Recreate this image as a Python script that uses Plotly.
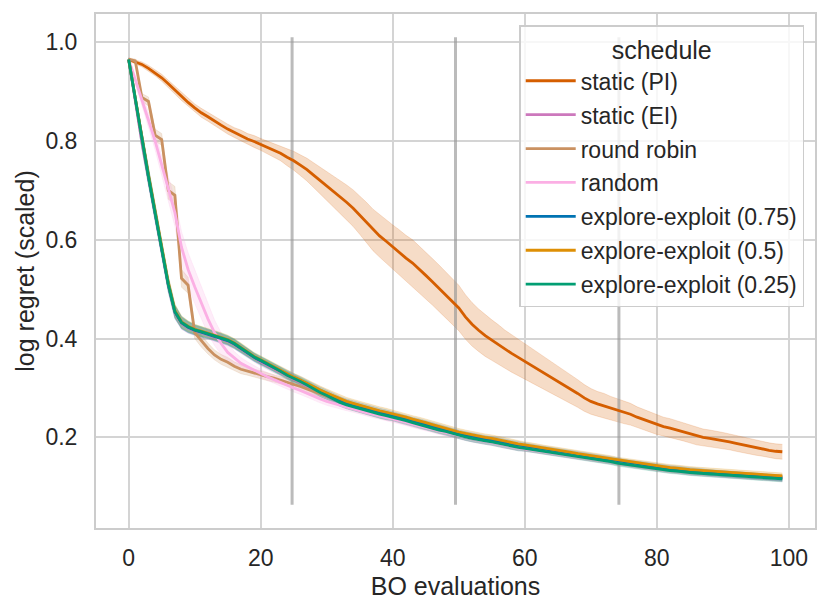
import plotly.graph_objects as go

# BO evaluation index
evals = list(range(100))

# mean log regret (scaled) per schedule
pi_mean = [
    .965, .960, .955, .947, .938, .928, .916, .903, .890, .878,
    .867, .857, .849, .840, .832, .824, .817, .811, .804, .799,
    .793, .787, .781, .775, .767, .760, .751, .742, .731, .720,
    .710, .699, .688, .676, .664, .650, .635, .620, .608, .597,
    .585, .574, .563, .553, .541, .528, .515, .502, .489, .476,
    .462, .444, .429, .417, .406, .397, .388, .378, .370, .362,
    .354, .345, .337, .329, .321, .313, .305, .297, .289, .280,
    .273, .268, .264, .259, .255, .251, .247, .241, .236, .231,
    .226, .222, .219, .215, .211, .207, .203, .200, .198, .196,
    .194, .191, .188, .185, .182, .179, .177, .174, .172, .171,
]
pi_ci = [
    .003, .004, .005, .006, .006, .007, .007, .008, .008, .008,
    .008, .009, .009, .009, .010, .010, .010, .011, .011, .012,
    .012, .013, .014, .015, .017, .019, .021, .023, .025, .027,
    .029, .031, .033, .035, .037, .039, .041, .042, .043, .044,
    .045, .046, .046, .047, .047, .047, .047, .047, .047, .046,
    .046, .045, .044, .043, .042, .041, .040, .039, .038, .037,
    .036, .035, .034, .033, .032, .031, .030, .029, .028, .027,
    .026, .025, .025, .024, .023, .023, .022, .021, .021, .020,
    .020, .019, .019, .019, .018, .018, .018, .017, .017, .017,
    .016, .016, .016, .016, .015, .015, .015, .015, .015, .015,
]

ei_mean = [
    .965, .883, .798, .726, .652, .578, .508, .453, .431, .422,
    .416, .412, .408, .404, .400, .395, .388, .379, .370, .361,
    .353, .346, .339, .331, .324, .318, .311, .304, .297, .290,
    .284, .277, .271, .266, .262, .258, .254, .250, .247, .243,
    .240, .236, .233, .229, .225, .222, .218, .215, .211, .208,
    .204, .201, .198, .196, .193, .191, .188, .185, .183, .180,
    .178, .176, .174, .172, .170, .168, .166, .164, .162, .160,
    .158, .156, .154, .152, .149, .147, .145, .143, .141, .139,
    .138, .136, .135, .133, .132, .130, .129, .128, .127, .126,
    .125, .124, .123, .122, .121, .120, .119, .118, .117, .117,
]

rr_mean = [
    .965, .962, .888, .880, .812, .803, .700, .690, .522, .508,
    .412, .395, .380, .367, .358, .352, .344, .338, .334, .330,
    .327, .323, .320, .316, .312, .308, .303, .298, .293, .288,
    .283, .278, .273, .268, .264, .260, .256, .252, .249, .246,
    .243, .239, .236, .232, .228, .224, .221, .217, .214, .210,
    .206, .203, .200, .197, .195, .193, .190, .187, .184, .182,
    .180, .178, .175, .173, .171, .169, .167, .165, .163, .161,
    .159, .157, .155, .153, .150, .148, .146, .144, .142, .140,
    .138, .137, .135, .134, .132, .131, .130, .129, .128, .127,
    .126, .125, .124, .123, .122, .121, .120, .119, .118, .118,
]
rr_ci = [
    .003, .004, .008, .009, .012, .012, .018, .018, .018, .016,
    .012, .012, .011, .010, .010, .010, .009, .009, .008, .008,
    .008, .008, .008, .007, .007, .007, .007, .007, .007, .007,
    .007, .007, .007, .007, .007, .007, .007, .007, .007, .007,
    .007, .007, .007, .007, .007, .007, .007, .007, .007, .007,
    .006, .006, .006, .006, .006, .006, .006, .006, .006, .006,
    .006, .006, .006, .006, .006, .006, .006, .006, .006, .006,
    .006, .006, .006, .006, .006, .006, .006, .006, .006, .006,
    .006, .006, .006, .006, .006, .006, .006, .006, .006, .006,
    .006, .006, .006, .006, .006, .006, .006, .006, .006, .006,
]

rand_mean = [
    .965, .925, .885, .842, .800, .750, .705, .655, .585, .540,
    .505, .472, .440, .412, .390, .372, .360, .350, .343, .336,
    .330, .323, .317, .311, .305, .300, .295, .289, .283, .278,
    .273, .269, .265, .261, .258, .254, .250, .247, .244, .241,
    .238, .234, .231, .227, .224, .220, .217, .213, .210, .206,
    .203, .200, .197, .194, .192, .190, .187, .184, .182, .179,
    .177, .175, .173, .171, .169, .167, .165, .163, .161, .159,
    .157, .155, .153, .151, .149, .147, .145, .143, .141, .139,
    .137, .136, .134, .133, .131, .130, .129, .128, .127, .126,
    .125, .124, .123, .122, .121, .120, .119, .118, .118, .117,
]
rand_ci = [
    .003, .008, .012, .015, .018, .020, .024, .028, .032, .034,
    .034, .033, .030, .026, .022, .018, .014, .012, .010, .009,
    .008, .008, .008, .008, .008, .008, .008, .008, .008, .008,
    .008, .008, .007, .007, .007, .007, .007, .007, .007, .007,
    .007, .007, .007, .007, .007, .007, .007, .007, .007, .007,
    .006, .006, .006, .006, .006, .006, .006, .006, .006, .006,
    .006, .006, .006, .006, .006, .006, .006, .006, .006, .006,
    .006, .006, .006, .006, .006, .006, .006, .006, .006, .006,
    .006, .006, .006, .006, .006, .006, .006, .006, .006, .006,
    .006, .006, .006, .006, .006, .006, .006, .006, .006, .006,
]

ee75_mean = [
    .965, .884, .799, .727, .654, .579, .509, .454, .432, .423,
    .417, .413, .409, .405, .401, .396, .389, .380, .371, .362,
    .355, .348, .341, .334, .327, .321, .315, .308, .300, .294,
    .288, .281, .275, .270, .266, .262, .258, .254, .251, .248,
    .245, .241, .238, .234, .231, .227, .223, .219, .216, .212,
    .208, .205, .202, .199, .197, .195, .192, .189, .187, .185,
    .183, .181, .178, .176, .174, .172, .170, .168, .166, .163,
    .161, .159, .157, .155, .153, .150, .148, .146, .144, .142,
    .140, .139, .137, .136, .134, .133, .132, .130, .129, .128,
    .127, .126, .125, .124, .123, .122, .121, .120, .119, .118,
]
ee50_mean = [
    .965, .887, .803, .731, .659, .584, .513, .457, .434, .425,
    .419, .415, .411, .407, .403, .398, .391, .382, .373, .364,
    .357, .350, .343, .336, .328, .322, .316, .309, .302, .296,
    .290, .284, .278, .273, .269, .265, .261, .257, .254, .251,
    .248, .244, .241, .237, .234, .230, .226, .222, .219, .215,
    .211, .208, .205, .202, .200, .198, .195, .192, .189, .187,
    .185, .183, .180, .178, .176, .174, .172, .170, .167, .165,
    .163, .161, .159, .157, .154, .152, .150, .148, .146, .144,
    .142, .141, .139, .138, .136, .135, .134, .133, .132, .131,
    .130, .129, .128, .127, .126, .125, .124, .123, .123, .122,
]
ee25_mean = [
    .965, .885, .800, .728, .655, .580, .510, .455, .433, .424,
    .418, .414, .410, .406, .402, .397, .390, .381, .372, .363,
    .356, .349, .342, .334, .326, .320, .313, .306, .298, .291,
    .285, .278, .271, .266, .262, .259, .255, .251, .247, .244,
    .241, .237, .234, .230, .226, .222, .219, .215, .212, .208,
    .204, .201, .198, .195, .193, .191, .188, .185, .182, .180,
    .178, .176, .173, .171, .169, .167, .165, .163, .161, .159,
    .157, .155, .153, .151, .148, .146, .144, .142, .140, .138,
    .136, .135, .133, .132, .130, .129, .128, .127, .126, .125,
    .124, .123, .122, .121, .120, .119, .118, .117, .117, .116,
]
# shared band width of the EI-like schedules
ee_ci = [
    .003, .010, .014, .016, .016, .015, .014, .013, .012, .011,
    .010, .010, .009, .009, .009, .009, .009, .009, .009, .008,
    .008, .008, .008, .008, .008, .008, .008, .008, .008, .008,
    .008, .008, .008, .008, .008, .008, .008, .008, .008, .008,
    .007, .007, .007, .007, .007, .007, .007, .007, .007, .007,
    .007, .007, .007, .007, .007, .007, .007, .007, .007, .007,
    .006, .006, .006, .006, .006, .006, .006, .006, .006, .006,
    .006, .006, .006, .006, .006, .006, .006, .006, .006, .006,
    .006, .006, .006, .006, .006, .006, .006, .006, .006, .006,
    .006, .006, .006, .006, .006, .006, .006, .006, .006, .006,
]

# switch points of the explore-exploit schedules
switch_x = [24.75, 49.5, 74.25]
switch_y = [0.064, 1.01]

schedules = [
    ('static (PI)', pi_mean, pi_ci, (213, 94, 0)),
    ('static (EI)', ei_mean, ee_ci, (204, 120, 188)),
    ('round robin', rr_mean, rr_ci, (202, 145, 97)),
    ('random', rand_mean, rand_ci, (251, 175, 228)),
    ('explore-exploit (0.75)', ee75_mean, ee_ci, (1, 115, 178)),
    ('explore-exploit (0.5)', ee50_mean, ee_ci, (222, 143, 5)),
    ('explore-exploit (0.25)', ee25_mean, ee_ci, (2, 158, 115)),
]


def rgba(c, a):
    return 'rgba(%d,%d,%d,%s)' % (c[0], c[1], c[2], a)


fig = go.Figure()

# confidence bands first (they sit below every line)
for name, mean, ci, col in schedules:
    upper = [m + c for m, c in zip(mean, ci)]
    lower = [m - c for m, c in zip(mean, ci)]
    fig.add_trace(go.Scatter(x=evals, y=upper, mode='lines', legendgroup=name,
                             line=dict(color=rgba(col, 0.22), width=0.8),
                             showlegend=False, hoverinfo='skip'))
    fig.add_trace(go.Scatter(x=evals, y=lower, mode='lines', legendgroup=name,
                             line=dict(color=rgba(col, 0.22), width=0.8),
                             fill='tonexty', fillcolor=rgba(col, 0.22),
                             showlegend=False, hoverinfo='skip'))

# gray switch markers
vx, vy = [], []
for sx in switch_x:
    vx += [sx, sx, None]
    vy += [switch_y[0], switch_y[1], None]
fig.add_trace(go.Scatter(x=vx, y=vy, mode='lines', showlegend=False,
                         line=dict(color='rgba(150,150,150,0.65)', width=3),
                         hoverinfo='skip'))

for name, mean, ci, col in schedules:
    fig.add_trace(go.Scatter(x=evals, y=mean, mode='lines', name=name,
                             legendgroup=name,
                             line=dict(color=rgba(col, 1), width=2.8)))

# the page body adds an 8px offset, so margins are shifted to compensate
fig.update_layout(
    width=830, height=613,
    margin=dict(l=88, r=23, t=6, b=93),
    paper_bgcolor='white', plot_bgcolor='white',
    font=dict(family='Liberation Sans, Arial, sans-serif', size=23, color='#262626'),
    showlegend=True,
    legend=dict(
        title=dict(text='schedule', side='top center', font=dict(size=25)),
        x=0.985, y=0.978, xanchor='right', yanchor='top',
        bgcolor='rgba(255,255,255,0.8)', bordercolor='#cccccc', borderwidth=1.5,
        font=dict(size=23), tracegroupgap=1, itemwidth=50,
    ),
)
fig.update_xaxes(
    range=[-4.95, 103.95], tickvals=[0, 20, 40, 60, 80, 100],
    title=dict(text='BO evaluations', font=dict(size=25), standoff=8),
    showgrid=True, gridcolor='#d4d4d4', gridwidth=1.6, zeroline=False,
    showline=True, mirror=True, linecolor='#cccccc', linewidth=2,
    ticks='outside', ticklen=8, tickcolor='rgba(0,0,0,0)',
    tickfont=dict(size=23), automargin=False,
)
fig.update_yaxes(
    range=[0.0167, 1.057], tickvals=[0.2, 0.4, 0.6, 0.8, 1.0], tickformat='.1f',
    title=dict(text='log regret (scaled)', font=dict(size=25), standoff=4),
    showgrid=True, gridcolor='#d4d4d4', gridwidth=1.6, zeroline=False,
    showline=True, mirror=True, linecolor='#cccccc', linewidth=2,
    ticks='outside', ticklen=12, tickcolor='rgba(0,0,0,0)',
    tickfont=dict(size=23), automargin=False,
)

fig.write_html('out.html')
